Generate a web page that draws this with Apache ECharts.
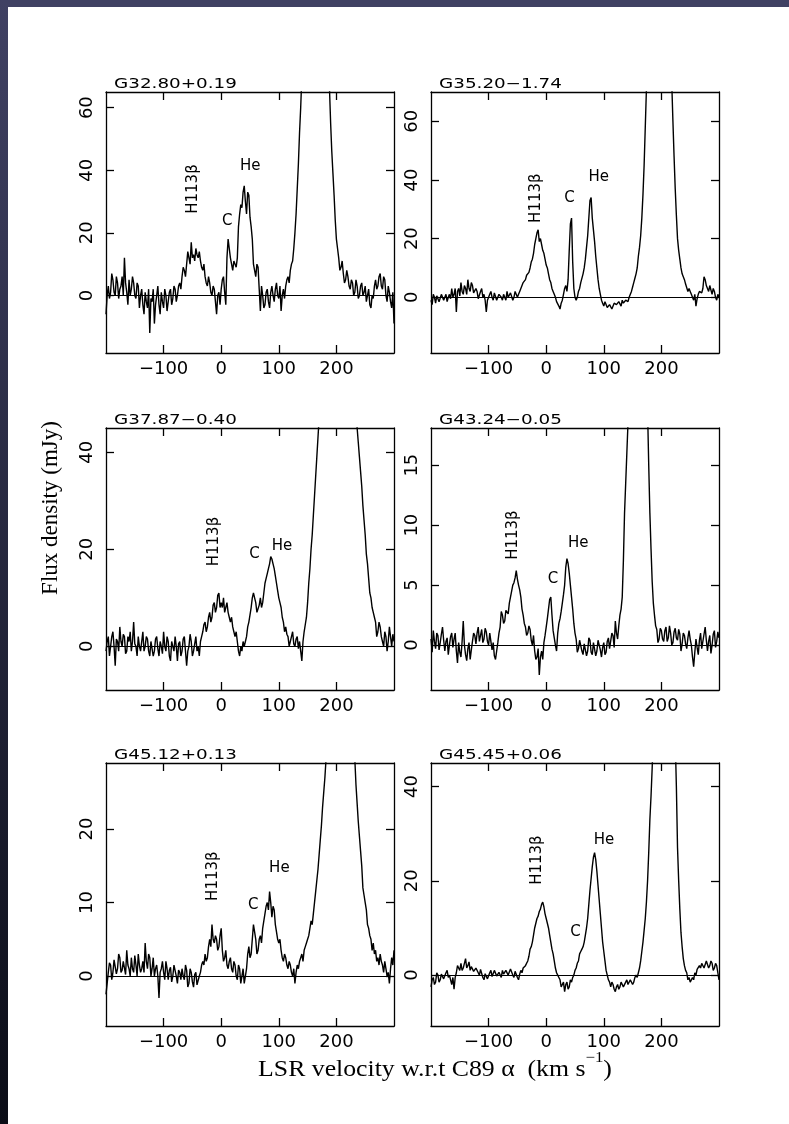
<!DOCTYPE html>
<html><head><meta charset="utf-8">
<script src="https://cdn.jsdelivr.net/npm/echarts@6/dist/echarts.min.js"></script>
<style>
html,body{margin:0;padding:0;background:#fff;}
#chart{position:absolute;left:0;top:0;width:789px;height:1124px;}
#topband{position:absolute;left:0;top:0;width:789px;height:7px;background:#404163;}
#leftband{position:absolute;left:0;top:0;width:8px;height:1124px;background:linear-gradient(to bottom,#404163,#0b0d17);}
</style></head><body>
<div id="chart"></div><div id="topband"></div><div id="leftband"></div>
<script>
// LSR velocity channels (km/s)
const velocity = [
-200,-198,-196,-194,-192,-190,-188,-186,-184,-182,-180,-178,-176,-174,-172,-170,-168,-166,-164,-162,
-160,-158,-156,-154,-152,-150,-148,-146,-144,-142,-140,-138,-136,-134,-132,-130,-128,-126,-124,-122,
-120,-118,-116,-114,-112,-110,-108,-106,-104,-102,-100,-98,-96,-94,-92,-90,-88,-86,-84,-82,
-80,-78,-76,-74,-72,-70,-68,-66,-64,-62,-60,-58,-56,-54,-52,-50,-48,-46,-44,-42,
-40,-38,-36,-34,-32,-30,-28,-26,-24,-22,-20,-18,-16,-14,-12,-10,-8,-6,-4,-2,
0,2,4,6,8,10,12,14,16,18,20,22,24,26,28,30,32,34,36,38,
40,42,44,46,48,50,52,54,56,58,60,62,64,66,68,70,72,74,76,78,
80,82,84,86,88,90,92,94,96,98,100,102,104,106,108,110,112,114,116,118,
120,122,124,126,128,130,132,134,136,138,140,142,144,146,148,150,152,154,156,158,
160,162,164,166,168,170,172,174,176,178,180,182,184,186,188,190,192,194,196,198,
200,202,204,206,208,210,212,214,216,218,220,222,224,226,228,230,232,234,236,238,
240,242,244,246,248,250,252,254,256,258,260,262,264,266,268,270,272,274,276,278,
280,282,284,286,288,290,292,294,296,298,300];

// Flux density (mJy) per source, one value per channel
const flux1 = [
-6,0,3,-1,1,7,5,1,0,6,4,-1,2,3,6,0,12,4,1,-3,
5,0,2,6,4,0,-1,4,3,-4,0,2,-3,-6,1,-2,-4,2,-12,-1,
-2,2,-9,-3,0,3,-3,-6,1,-2,-4,2,0,-5,-2,1,2,-3,-1,3,
2,-2,0,3,4,2,6,9,8,6,10,14,12,10,17,12,13,11,15,13,
12,14,11,9,8,10,6,4,3,6,4,1,0,3,2,-2,-6,0,1,-3,
2,5,6,1,-3,12,18,15,12,10,8,11,10,9,12,22,26,29,28,33,
35,30,26,33,32,25,22,18,10,8,6,10,9,2,-5,3,0,-4,-3,1,
2,-2,-4,1,3,0,-2,2,4,0,-1,3,-5,0,2,-1,3,5,6,4,
8,10,11,15,20,26,34,42,52,60,70,82,95,108,120,130,140,146,150,153,
155,156,155,153,150,146,140,133,125,115,105,95,85,76,66,55,46,39,32,24,
18,15,12,8,9,11,7,4,5,8,6,3,2,5,4,0,1,5,3,-1,
0,3,4,0,1,3,-2,0,2,-3,-4,0,-1,3,5,2,3,6,7,3,
2,6,5,0,-2,3,1,-2,-4,1,-9];
const flux2 = [
-1,-2.5,1,0,-2,0.5,0.5,-1.5,-1,1,1.5,-1,0,1,-1.5,0,1,-0.5,3,0,
1,3,-5,2,3,0.5,5,2,1,4,3,1,6,3,2,5,4,1.5,1,3,
2,-0.5,0,2,3,0,1,-1,-5,-1,0,1,2,0,-1,1.5,1,-1,0,1,
1,0,-1,1,0.5,-1,2,0,-0.5,1.5,1,-1,0,2,1.5,0,1,2,3,3.5,
5,4.5,6,7.5,8,8.5,10,12,13,15,18,20,22,23,19,20,18,16,15,13,
11,10,8,6,5,3,2,1,0,-1.5,-2,-3,-4,-2,-1,1,3,4,2,6,
16,25,27,12,3,0,-1,0,2,3,5,5.5,8,10,13,17,21,27,33,34,
27,23,19,14,10,6,3,1,-1,-2,-3,-1.5,-2,-3.5,-4,-2.5,-2,-4,-3.5,-2,
-1.5,-2.5,-3,-1.5,-2,-3,-1,-2,-2.5,-1,-0.5,-1.5,0,0.5,2,3.5,5,6.5,8,10,
14,17,21,27,35,45,58,71,85,100,115,128,140,148,155,161,165,167,168,167,
165,161,155,148,140,128,115,102,88,73,60,48,37,28,20,16,13,10,8,7,
6,4.5,4,2,3,2,1,0,-1,1,-3,-0.5,1,2,2.5,1.5,3,7,6,4,
3,2,4,2.5,1,3,2,0,-1,1,0];
const flux3 = [
-1,1,2,-2,0,2,3,0,-4,1.5,1,-1,4,1,0,2.5,2,-1.5,-1,2,
1,3,-1,1,5,0.5,0,-2,2,0,-1,1,3,-1,0,2,1.5,-1,-2,1,
1,-2,-1,1.5,2,-0.5,-2,1,0,-1.5,3,0,-1,2,1,-2,-3,1,0,-1,
2,0,-3,0.5,1,-2,-1,1.5,2,-1,-4,-1,0,2.5,1,-2,-1,0.5,2,-1,
0,-2,1,2,3,4.5,5,3,4,6,7,5,6,8.5,9,7,8,10.5,11,8,
9,8,10,7,8,9,7,6,5,6,4,3,2,3,1,-1,-2,0,-1,1,
0,1,2,4,5,6.5,8,10,11,10,9,7,7,8.5,10,8,9,11,13,14,
15,16,17,18.5,18,17,16,14.5,13,11.5,10,9,8,6,5,3,4,2.5,2,0,
1,2,3,0.5,0,1.5,2,-0.5,1,-1,-3,1,3,4.5,6,9,13,16,20,23,
27,31,35,39,43,47,52,57,62,67,72,77,82,86,90,93,96,98,100,101,
102,102,101,100,98,96,93,90,86,82,78,73,68,63,58,54,50,48,45,42,
39,36,33,29,26,23,19,17,14,11,10,8,7,6,5,2,3,5,4,2,
1,0,3,2,-1,1,4,2,0,2.5,1];
const flux4 = [
0.5,-0.6,1.2,0.3,-0.3,1.0,0.8,-0.4,0.2,0.9,1.5,0.4,-0.5,0.3,0.6,-0.8,0.0,0.7,1.0,-0.2,
0.5,1.0,-0.5,-1.5,0.2,-0.6,-1.0,0.3,2.0,0.0,-0.8,-1.3,-0.3,0.2,-1.2,-0.4,0.3,1.0,0.8,0.1,
1.0,1.5,0.3,0.8,1.3,0.2,0.5,1.4,1.1,0.3,0.0,1.0,0.9,-0.4,0.2,-0.9,-1.2,-0.5,0.2,1.0,
1.5,2.8,2.5,1.8,2.0,2.9,3.0,2.6,3.5,4.0,4.5,5.0,5.2,5.6,6.2,5.5,5.0,4.6,4.0,3.0,
2.5,1.8,1.5,0.8,1.0,1.6,1.3,0.4,0.0,0.8,-0.5,-1.2,-1.0,-0.3,-2.5,-1.0,-0.5,-1.2,0.2,0.8,
1.5,2.2,3.0,3.8,4.0,2.5,1.2,0.6,0.0,-0.5,1.0,1.8,2.2,2.8,3.5,4.2,5.0,6.5,7.2,6.8,
6.0,5.0,4.0,3.0,1.8,1.0,0.5,-0.6,-0.3,0.4,0.5,-0.5,-0.8,0.1,0.2,-0.9,-0.5,0.6,0.4,-0.6,
-0.8,0.2,0.3,-0.9,-0.5,0.4,0.5,-0.4,-1.0,-0.2,0.2,-0.8,-0.6,0.3,0.6,-0.3,-0.4,1.0,0.8,-0.2,
2.0,1.0,0.5,1.6,2.5,3.0,4.0,7.0,11,13.5,16,18.5,21,25,28,31,33,35,36,37,
37,37,36,34,32,29,26,23,19.5,15,11,8,5.3,3.5,2.5,1.6,1.3,0.2,0.5,1.4,
1.2,0.5,0.3,1.2,1.5,0.3,0.6,1.6,1.0,0.0,0.2,1.1,1.4,0.6,0.4,1.3,0.9,-0.5,0.1,1.0,
0.8,0.1,-0.3,0.6,1.2,0.5,0.0,-1.0,-1.8,-0.6,0.5,-0.2,-0.8,0.4,1.0,-0.3,0.3,0.9,1.5,0.4,
-0.5,0.3,0.8,-0.7,0.0,0.9,1.2,-0.2,0.3,1.1,0.6];
const flux5 = [
-2.5,-1.0,0.5,1.8,1.5,-0.5,0.5,2.2,2.0,0.3,1.0,3.0,2.5,0.5,0.8,2.0,1.8,0.2,3.5,1.5,
1.0,0.0,2.5,1.0,0.5,2.8,1.5,0.0,3.0,1.5,0.5,1.0,2.0,0.5,4.5,2.0,1.0,3.0,2.5,0.0,
1.0,2.5,0.0,1.0,1.5,0.0,-3.0,0.5,1.0,2.0,0.5,-0.5,2.0,1.0,-0.5,0.8,1.2,-0.8,0.0,1.5,
1.5,0.0,-1.0,0.8,0.5,-0.5,1.0,0.0,-0.5,1.5,0.8,-1.5,-1.0,1.0,0.5,-0.8,-1.5,0.2,0.5,-1.2,
-1.0,0.0,0.5,1.5,2.0,1.5,3.0,2.0,2.5,4.0,5.0,4.0,7.0,5.0,4.5,5.5,5.0,3.5,4.0,5.5,
6.5,3.5,2.0,2.5,3.5,1.5,1.0,2.0,2.5,1.0,0.5,2.0,1.5,0.0,-0.5,1.5,1.0,-1.0,0.0,1.0,
-1.0,0.0,1.0,3.0,4.0,2.5,3.0,5.0,7.0,6.0,5.0,3.0,3.5,5.0,5.5,4.5,6.5,7.5,8.5,9.5,
10,9.0,11.5,10.0,8.0,9.5,9.0,7.0,6.0,5.0,4.5,5.0,3.5,2.5,2.0,3.0,2.5,1.5,1.0,2.0,
1.5,0.5,0.0,1.0,-1.0,0.5,1.5,1.0,2.0,2.5,3.0,2.0,3.5,4.0,4.5,5.0,5.5,6.5,7.5,7.0,
8.5,10,11.5,13,14.5,16.5,18.5,20.5,23,25,27,29.5,32,34.5,37,39,41,43,44,45,
46,46.5,47,47,47,46,45,43.5,42,40.5,39,37.5,36,34.5,33,31,29.5,26,23.5,21,
19,17,15,12,11,10,9,7,6.5,5.5,5,3.5,4.5,3.0,3.5,2.0,2.5,1.5,3.0,2.0,
1.5,0.5,2.0,1.0,0.0,0.5,-1.0,1.0,2.5,1.5,3.5];
const flux6 = [
-2.5,-1.0,-0.5,-2.0,-1.5,0.5,0.0,-1.5,-1.0,0.2,0.5,-0.8,-1.0,0.5,1.0,-0.5,0.0,-1.0,-2.0,-0.5,
-3.0,-0.5,0.5,2.0,1.5,1.0,2.5,1.0,1.5,2.5,3.5,1.5,2.0,2.8,1.0,1.8,2.0,0.8,0.5,1.5,
1.5,0.5,0.0,1.2,1.0,-0.5,-1.0,0.3,0.5,-0.8,-0.5,0.5,1.0,-0.3,0.0,1.0,0.8,-0.2,-0.5,0.6,
0.5,-0.5,1.0,0.2,0.0,1.0,1.2,0.0,0.3,1.3,1.0,0.0,-0.5,0.8,0.5,-0.5,-1.0,0.2,1.0,0.5,
1.5,1.2,2.0,2.5,3.0,4.0,5.5,6.0,7.0,8.5,10,11,12,12.5,13.5,14,15,15.5,14.5,13,
12,11,10,8.5,7,5.5,4.5,3,1.5,0.5,0.0,-0.5,-1.0,-2.5,-2.0,-1.5,-3.5,-2.0,-1.5,-3.0,
-2.5,-1.0,-1.5,-0.5,0.0,1.0,1.5,2.5,3.0,4.5,5.0,5.5,6.0,7.0,8.5,10,12,15,18,20.5,
23,25,26,24.5,22,19,16,13,10,7,5,3,1,0,-1,-1.5,-2.5,-1.5,-2.0,-3.0,
-3.5,-2.5,-2.0,-3.0,-2.5,-1.5,-1.5,-2.5,-2.5,-1.5,-1.0,-2.0,-2.0,-1.0,-1.0,-2.0,-1.5,-0.5,0.0,-0.5,
0.5,1.5,3.0,5.0,7.0,9.5,12,15.5,20,26,33,38,44,51,58,64,70,75,80,83,
86,87.5,88,87,85,82,78,73,68,62,55,52,50,40,27,20,14,9,6,3.5,
2,1.0,0.5,-1.0,-0.5,-1.5,-1.5,-0.5,-1.0,0.5,0.0,1.2,1.0,2.0,1.5,2.5,2.5,1.5,1.5,3.0,
3.0,1.5,2.0,3.0,2.5,1.0,1.5,2.5,2.0,0.5,-1.0];

const titles = ['G32.80+0.19','G35.20\u22121.74','G37.87\u22120.40','G43.24\u22120.05','G45.12+0.13','G45.45+0.06'];
const xTicks = [-100, 0, 100, 200];
const yTicks = [[0,20,40,60],[0,20,40,60],[0,20,40],[0,5,10,15],[0,10,20],[0,20,40]];
const yMin = [-18.4, -19, -9, -3.75, -6.8, -10.8];
const yMax = [65, 70, 45, 18.1, 29, 45];
const lineNames = ['H113\u03b2', 'C', 'He'];
// velocity / flux positions of the line annotations, per source
const annV = [[-49, 10.6, 50.4], [-17.8, 40.5, 91.2], [-12.5, 57.7, 105.4], [-57.6, 11.6, 55.7], [-14.6, 55.7, 101], [-15.6, 50.9, 100.5]];
const annF = [[34, 23.6, 41.4], [33.8, 33.8, 41], [21.6, 19.1, 20.7], [9.17, 5.5, 8.5], [13.6, 9.7, 14.7], [24.4, 9.2, 28.7]];

const spectra = [flux1, flux2, flux3, flux4, flux5, flux6];
const gridLeft = [106, 431];
const gridTop = [92, 428, 763];
const gridH = [261, 262, 263];
const gridW = 288;

const fmt = v => v < 0 ? '\u2212' + (-v) : String(v);
const grids = [], xAxes = [], yAxes = [], series = [], graphics = [];
const lineSt = {color: '#000', width: 1.3};

for (let p = 0; p < 6; p++) {
  const col = p % 2, row = Math.floor(p / 2);
  grids.push({left: gridLeft[col], top: gridTop[row], width: gridW, height: gridH[row], show: false});
  const axLine = {show: true, onZero: false, lineStyle: lineSt};
  const xt = {show: true, inside: true, length: 8, lineStyle: lineSt, customValues: xTicks};
  const yt = {show: true, inside: true, length: 8, lineStyle: lineSt, customValues: yTicks[p]};
  const lblBase = {color: '#000', fontFamily: 'DejaVu Sans', fontSize: 18};
  xAxes.push({type: 'value', gridIndex: p, position: 'bottom', min: -200, max: 300,
    axisLine: axLine, axisTick: xt, splitLine: {show: false},
    axisLabel: Object.assign({show: true, customValues: xTicks, margin: 7, formatter: fmt}, lblBase)});
  xAxes.push({type: 'value', gridIndex: p, position: 'top', min: -200, max: 300,
    axisLine: axLine, axisTick: xt, splitLine: {show: false}, axisLabel: {show: false}});
  yAxes.push({type: 'value', gridIndex: p, position: 'left', min: yMin[p], max: yMax[p],
    axisLine: axLine, axisTick: yt, splitLine: {show: false},
    axisLabel: Object.assign({show: true, customValues: yTicks[p], rotate: 90, margin: 10, formatter: v => String(v)}, lblBase)});
  yAxes.push({type: 'value', gridIndex: p, position: 'right', min: yMin[p], max: yMax[p],
    axisLine: axLine, axisTick: yt, splitLine: {show: false}, axisLabel: {show: false}});

  series.push({type: 'line', xAxisIndex: 2 * p, yAxisIndex: 2 * p,
    data: velocity.map((v, i) => [v, spectra[p][i]]),
    showSymbol: false, symbol: 'none', clip: true, silent: true,
    lineStyle: {color: '#000', width: 1.4}, animation: false,
    markLine: {silent: true, symbol: 'none', label: {show: false}, animation: false,
      lineStyle: {color: '#000', width: 1.1, type: 'solid'}, data: [{yAxis: 0}]}});

  series.push({type: 'scatter', xAxisIndex: 2 * p, yAxisIndex: 2 * p, symbolSize: 0, silent: true,
    itemStyle: {color: '#000', opacity: 1}, animation: false,
    data: lineNames.map((n, k) => ({name: n, value: [annV[p][k], annF[p][k]], label: {rotate: k === 0 ? 90 : 0}})),
    label: {show: true, position: 'inside', formatter: '{b}', color: '#000', opacity: 1, textBorderWidth: 0,
      fontFamily: 'DejaVu Sans', fontSize: 15}});

  graphics.push({type: 'text', x: col === 0 ? 114 : 439, y: gridTop[row] - 14.5, scaleX: 1.31, silent: true,
    style: {text: titles[p], fill: '#000', fontFamily: 'DejaVu Sans', fontSize: 14, verticalAlign: 'top', align: 'left'}});
}

graphics.push({type: 'text', x: 51, y: 508, rotation: Math.PI / 2, silent: true,
  style: {text: 'Flux density (mJy)', fill: '#000', fontFamily: 'Liberation Serif', fontSize: 23, align: 'center', verticalAlign: 'middle'}});
graphics.push({type: 'text', x: 435, y: 1051, scaleX: 1.12, silent: true,
  style: {text: '{m|LSR velocity w.r.t C89 \u03b1  (km s}{s|\u22121}{m|)}', fill: '#000', align: 'center', verticalAlign: 'top',
    rich: {m: {fontFamily: 'Liberation Serif', fontSize: 23, lineHeight: 38, fill: '#000'},
           s: {fontFamily: 'Liberation Serif', fontSize: 15, lineHeight: 15, verticalAlign: 'top', fill: '#000'}}}});

const chart = echarts.init(document.getElementById('chart'), null, {renderer: 'canvas', width: 789, height: 1124});
chart.setOption({
  animation: false,
  backgroundColor: '#fff',
  grid: grids, xAxis: xAxes, yAxis: yAxes, series: series, graphic: graphics
});
</script></body></html>
